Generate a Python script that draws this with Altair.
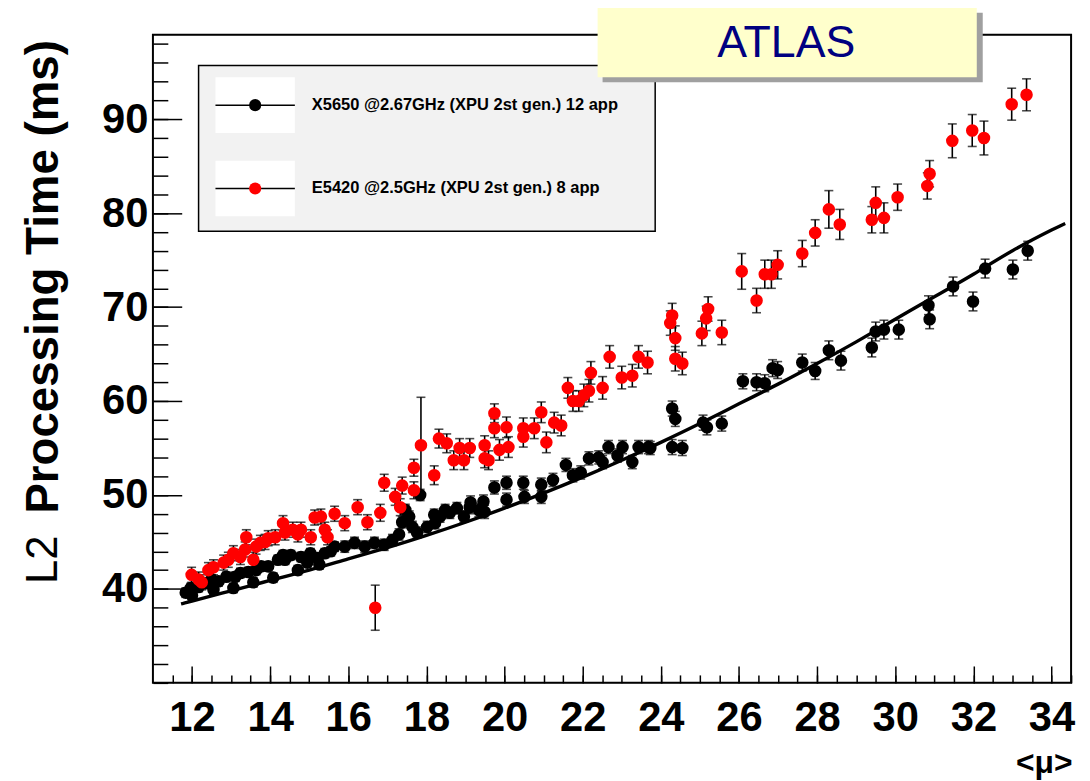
import altair as alt
import pandas as pd

# ---------------- data ----------------
black_mu = [11.84, 11.97, 12.0, 12.17, 12.35, 12.5, 12.55, 12.68, 12.88, 13.06, 13.11, 13.24, 13.44,
            13.57, 13.64, 13.77, 13.95, 14.08, 14.2, 14.33, 14.38, 14.53, 14.71, 14.79, 14.95, 15.03,
            15.21, 15.26, 15.4, 15.55, 15.65, 15.91, 16.16, 16.42, 16.67, 16.92, 17.13, 17.3, 17.38,
            17.46, 17.56, 17.64, 17.76, 17.84, 18.02, 18.2, 18.22, 18.35, 18.48, 18.6, 18.78, 18.96,
            19.11, 19.13, 19.34, 19.46, 19.49, 19.74, 20.05, 20.05, 20.48, 20.51, 20.94, 20.94, 21.24,
            21.57, 21.75, 21.95, 22.16, 22.41, 22.51, 22.66, 22.89, 23.02, 23.27, 23.43, 23.68, 23.73,
            24.29, 24.37, 24.29, 24.55, 25.08, 25.18, 25.56, 26.1, 26.45, 26.66, 26.86, 26.99, 27.62,
            27.95, 28.3, 28.61, 29.4, 29.5, 29.71, 30.09, 30.85, 30.88, 31.48, 31.99, 32.3, 33.01, 33.39]
black_time = [39.6, 40.1, 39.3, 40.2, 40.6, 41.0, 39.9, 40.8, 41.3, 40.1, 41.3, 41.7, 41.8,
              40.7, 42.0, 42.4, 42.4, 41.2, 43.1, 43.6, 43.1, 43.6, 42.0, 43.4, 42.8, 43.8,
              43.3, 42.6, 43.8, 44.0, 44.5, 44.5, 44.9, 44.5, 44.9, 44.7, 45.2, 45.8, 47.1,
              48.4, 47.7, 46.6, 46.0, 50.0, 46.6, 47.9, 47.0, 47.7, 48.4, 48.1, 48.6, 47.7,
              48.7, 49.2, 48.4, 49.3, 48.2, 50.8, 51.3, 49.5, 51.3, 49.8, 51.1, 49.8, 51.6,
              53.2, 52.1, 52.4, 53.9, 54.0, 53.5, 55.1, 54.2, 55.1, 53.5, 55.1, 55.1, 55.0,
              59.2, 58.1, 55.1, 55.0, 57.7, 57.2, 57.6, 62.1, 62.0, 61.9, 63.5, 63.3, 64.1,
              63.2, 65.4, 64.3, 65.7, 67.4, 67.6, 67.6, 70.2, 68.7, 72.2, 70.6, 74.1, 74.0, 76.0]
black_err = [0.5] * 31 + [0.6] * 21 + [0.7] * 26 + [0.8] * 8 + [0.9] * 6 + [1.0] * 13

red_mu = [11.99, 12.17, 12.25, 12.42, 12.55, 12.81, 12.93, 13.06, 13.24, 13.39, 13.36, 13.57, 13.64,
          13.75, 13.87, 13.95, 14.13, 14.33, 14.38, 14.58, 14.71, 14.79, 15.04, 15.14, 15.3, 15.4,
          15.47, 15.65, 15.91, 16.24, 16.49, 16.69, 16.82, 16.92, 17.2, 17.33, 17.38, 17.68, 17.68,
          17.86, 18.2, 18.32, 18.52, 18.7, 18.85, 18.96, 19.11, 19.49, 19.49, 19.59, 19.74, 19.74,
          19.87, 20.05, 20.1, 20.48, 20.48, 20.76, 20.94, 21.07, 21.27, 21.45, 21.62, 21.75, 21.9,
          22.03, 22.16, 22.21, 22.51, 22.69, 23.0, 23.27, 23.43, 23.66, 24.24, 24.29, 24.37, 24.37,
          24.55, 25.05, 25.16, 25.21, 25.56, 26.07, 26.45, 26.66, 26.83, 26.99, 27.62, 27.95, 28.3,
          28.58, 29.4, 29.5, 29.71, 30.06, 30.82, 30.88, 31.46, 31.97, 32.27, 32.98, 33.36]
red_time = [41.5, 41.0, 40.7, 42.0, 42.3, 42.8, 43.1, 43.8, 43.4, 45.5, 44.2, 43.1, 44.5,
            44.9, 45.0, 45.4, 45.5, 47.0, 46.0, 46.3, 45.8, 46.3, 45.5, 47.6, 47.7, 46.3,
            45.5, 48.0, 47.0, 48.7, 47.1, 38.0, 48.1, 51.3, 49.8, 48.7, 51.0, 50.5, 52.9,
            55.3, 52.1, 56.0, 55.5, 53.7, 55.0, 53.7, 55.0, 55.3, 53.9, 53.7, 58.7, 57.1,
            54.8, 57.2, 55.1, 57.1, 56.2, 57.1, 58.8, 55.6, 57.7, 57.4, 61.4, 60.0, 60.0,
            60.6, 61.1, 63.0, 61.4, 64.7, 62.5, 62.7, 64.7, 64.1, 68.3, 69.1, 66.7, 64.5,
            64.0, 67.2, 68.8, 69.8, 67.3, 73.8, 70.7, 73.5, 73.5, 74.5, 75.7, 77.9, 80.4,
            78.8, 79.3, 81.1, 79.5, 81.7, 82.9, 84.2, 87.7, 88.8, 88.0, 91.6, 92.6]
red_err = ([0.8] * 31 + [2.4] + [0.9] * 7 + [5.1] + [1.0] * 12 + [1.1] * 13 + [1.2] * 9 + [1.3] * 4
           + [1.2, 1.3, 1.3, 1.3, 1.3, 1.9, 1.3, 1.5, 1.5, 1.5, 1.4, 1.4, 2.0]
           + [1.6, 1.4, 1.7, 1.6, 1.4, 1.4, 1.4, 1.8, 1.7, 1.8, 1.7, 1.7])

# fitted curve
fit_mu = [11.72, 12, 13, 14, 15, 16, 17, 18, 19, 20, 21, 22, 23, 24, 25, 26, 27, 28, 29, 30,
          31, 32, 33, 34, 34.35]
fit_time = [38.4, 38.7, 39.8, 40.9, 42.0, 43.2, 44.4, 45.7, 47.1, 48.6, 50.2, 51.9, 53.7, 55.6,
            57.6, 59.7, 61.8, 64.0, 66.3, 68.7, 71.1, 73.5, 76.0, 78.2, 78.9]

x_major = [12, 14, 16, 18, 20, 22, 24, 26, 28, 30, 32, 34]
x_minor = [11.5 + 0.5 * i for i in range(47)]
y_major = [40, 50, 60, 70, 80, 90]
y_minor = [30 + 2 * i for i in range(35)]

series_names = ["X5650 @2.67GHz (XPU 2st gen.) 12 app", "E5420 @2.5GHz (XPU 2st gen.) 8 app"]
series_colors = ["#000000", "#ff0000"]
y_title_parts = ["L2", "Processing Time (ms)"]
x_title = ["<\u03bc>"]
atlas_label = ["ATLAS"]

# ---------------- layout constants ----------------
W, H = 925, 653
XDOM = [11.0, 34.5]
YDOM = [30, 99]
FONT = "Liberation Sans, Arial, Helvetica"
NARROW = "Liberation Sans Narrow, Liberation Sans, Arial"

xs = alt.Scale(domain=XDOM, nice=False, zero=False)
ys = alt.Scale(domain=YDOM, nice=False, zero=False)

black_df = pd.DataFrame({"mu": black_mu, "t": black_time, "e": black_err})
red_df = pd.DataFrame({"mu": red_mu, "t": red_time, "e": red_err})
fit_df = pd.DataFrame({"mu": fit_mu, "t": fit_time})


def tick_axis_x(vals, size):
    return alt.Axis(orient="top", offset=-H, values=vals, labels=False, domain=False, grid=False,
                    ticks=True, tickSize=size, tickWidth=1.5, tickColor="black", title=None)


def tick_axis_y(vals, size):
    return alt.Axis(orient="right", offset=-W, values=vals, labels=False, domain=False, grid=False,
                    ticks=True, tickSize=size, tickWidth=1.5, tickColor="black", title=None)


one = pd.DataFrame({"k": [0]})

frame = alt.Chart(one).mark_rect(fill="white", fillOpacity=0, stroke="black", strokeWidth=2).encode(
    x=alt.value(0), x2=alt.value(W), y=alt.value(0), y2=alt.value(H))

fit_line = alt.Chart(fit_df).mark_line(color="black", strokeWidth=3.4, interpolate="natural").encode(
    x=alt.X("mu:Q", scale=xs, axis=alt.Axis(
        orient="bottom", values=x_major, ticks=False, domain=False, grid=False, labelFont=NARROW,
        labelFontSize=42, labelFontWeight="bold", labelColor="black", labelPadding=15,
        labelFlush=False, labelOverlap=False, title=None)),
    y=alt.Y("t:Q", scale=ys, axis=alt.Axis(
        orient="left", values=y_major, ticks=False, domain=False, grid=False, labelFont=FONT,
        labelFontSize=42, labelFontWeight="bold", labelColor="black", labelPadding=5,
        labelFlush=False, labelOverlap=False, title=None)),
)


def err_layers(df, with_axes):
    base = alt.Chart(df).transform_calculate(lo="datum.t - datum.e", hi="datum.t + datum.e")
    if with_axes:
        xenc = alt.X("mu:Q", scale=xs, axis=tick_axis_x(x_major, 17))
        yenc = alt.Y("lo:Q", scale=ys, axis=tick_axis_y(y_major, 29))
    else:
        xenc = alt.X("mu:Q", scale=xs, axis=None)
        yenc = alt.Y("lo:Q", scale=ys, axis=None)
    bars = base.mark_rule(color="black", strokeWidth=1.6).encode(x=xenc, y=yenc, y2="hi:Q")
    cap_lo = base.mark_tick(orient="horizontal", color="black", size=9, thickness=1.6).encode(
        x=alt.X("mu:Q", scale=xs, axis=None), y=alt.Y("lo:Q", scale=ys, axis=None))
    cap_hi = base.mark_tick(orient="horizontal", color="black", size=9, thickness=1.6).encode(
        x=alt.X("mu:Q", scale=xs, axis=None), y=alt.Y("hi:Q", scale=ys, axis=None))
    return [bars, cap_lo, cap_hi]


def pts(df, color, with_axes):
    if with_axes:
        xenc = alt.X("mu:Q", scale=xs, axis=tick_axis_x(x_minor, 8))
        yenc = alt.Y("t:Q", scale=ys, axis=tick_axis_y(y_minor, 15))
    else:
        xenc = alt.X("mu:Q", scale=xs, axis=None)
        yenc = alt.Y("t:Q", scale=ys, axis=None)
    return alt.Chart(df).mark_circle(color=color, opacity=1, size=160).encode(x=xenc, y=yenc)


layers = [frame]
layers += err_layers(black_df, True)
layers += [pts(black_df, series_colors[0], True), fit_line]
layers += err_layers(red_df, False)
layers += [pts(red_df, series_colors[1], False)]

# legend box
layers.append(alt.Chart(one).mark_rect(fill="#f2f2f2", stroke="black", strokeWidth=1.5).encode(
    x=alt.value(46), x2=alt.value(506), y=alt.value(31), y2=alt.value(198)))
for i, (name, col) in enumerate(zip(series_names, series_colors)):
    yy = 71 + 84 * i
    layers.append(alt.Chart(one).mark_rect(fill="white").encode(
        x=alt.value(63), x2=alt.value(143), y=alt.value(yy - 28), y2=alt.value(yy + 28)))
    layers.append(alt.Chart(one).mark_rule(color="black", strokeWidth=1.5).encode(
        x=alt.value(63), x2=alt.value(143), y=alt.value(yy)))
    layers.append(alt.Chart(one).mark_point(filled=True, shape="circle", color=col, opacity=1,
                                            size=150).encode(x=alt.value(103), y=alt.value(yy)))
    layers.append(alt.Chart(pd.DataFrame({"s": [name]})).mark_text(
        align="left", baseline="middle", font=FONT, fontWeight="bold", fontSize=16.6,
        color="black").encode(x=alt.value(160), y=alt.value(yy), text="s:N"))

# ATLAS box with shadow
layers.append(alt.Chart(one).mark_rect(fill="#a0a0a0").encode(
    x=alt.value(453), x2=alt.value(836), y=alt.value(-22), y2=alt.value(48)))
layers.append(alt.Chart(one).mark_rect(fill="#ffffcc").encode(
    x=alt.value(448), x2=alt.value(830), y=alt.value(-28), y2=alt.value(43)))
layers.append(alt.Chart(pd.DataFrame({"s": atlas_label})).mark_text(
    align="center", baseline="middle", font=FONT, fontSize=45, color="#000080").encode(
    x=alt.value(638), y=alt.value(8), text="s:N"))

# axis titles
layers.append(alt.Chart(pd.DataFrame({"s": [y_title_parts[0]]})).mark_text(
    angle=270, align="center", baseline="middle", font=FONT, fontSize=44, color="black").encode(
    x=alt.value(-110), y=alt.value(529), text="s:N"))
layers.append(alt.Chart(pd.DataFrame({"s": [y_title_parts[1]]})).mark_text(
    angle=270, align="center", baseline="middle", font=FONT, fontSize=46, fontWeight="bold",
    color="black").encode(x=alt.value(-110), y=alt.value(244), text="s:N"))
layers.append(alt.Chart(pd.DataFrame({"s": x_title})).mark_text(
    align="center", baseline="middle", font=NARROW, fontSize=32, fontWeight="bold",
    color="black").encode(x=alt.value(898), y=alt.value(734), text="s:N"))

chart = alt.layer(*layers).resolve_axis(x="independent", y="independent").properties(
    width=W, height=H,
    autosize=alt.AutoSizeParams(type="none"),
    padding={"left": 146, "top": 24, "right": 11, "bottom": 96},
).configure_view(stroke=None).configure(background="white")

chart.save("out.html", embed_options={"renderer": "svg", "actions": False})
